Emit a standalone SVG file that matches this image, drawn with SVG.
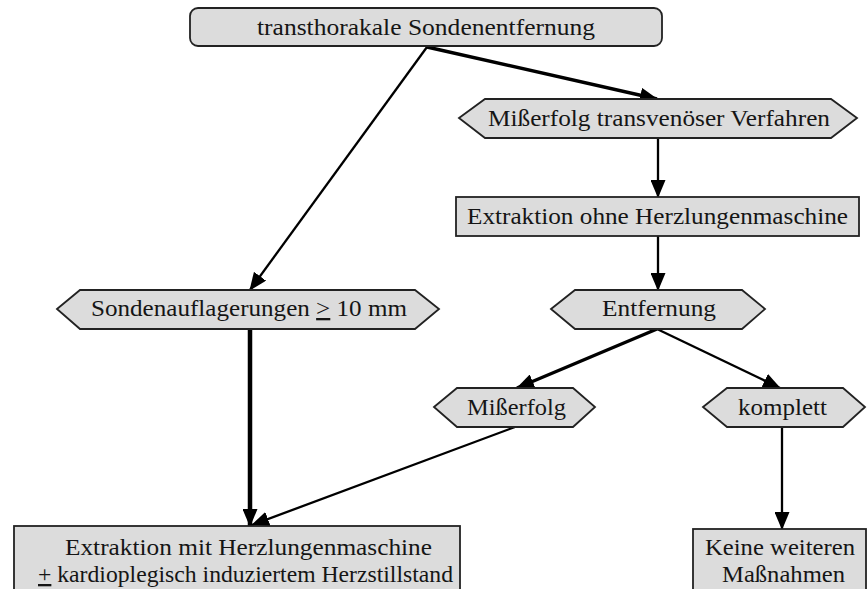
<svg xmlns="http://www.w3.org/2000/svg" width="868" height="589" viewBox="0 0 868 589">
  <style>
    .box { fill: #dcdcdc; stroke: #222; stroke-width: 1.8; }
    .lbl { font-family: "Liberation Serif", "DejaVu Serif", serif; font-size: 23px; fill: #151515; text-anchor: start; }
    .edge { fill: none; stroke: #000; stroke-linecap: butt; }
    .thin { stroke-width: 2.3; }
    .mid { stroke-width: 3.4; }
    .thick { stroke-width: 4.5; }
  </style>
  <defs>
    <marker id="arrow" markerUnits="userSpaceOnUse" markerWidth="18" markerHeight="15" refX="17" refY="7.5" orient="auto">
      <path d="M0,0 L18,7.5 L0,15 Z" fill="#000"/>
    </marker>
  </defs>

  <rect width="868" height="589" fill="#fff"/>

  <!-- connectors -->
  <g id="connectors">
    <line class="edge thin" x1="427" y1="47" x2="250" y2="290" marker-end="url(#arrow)"/>
    <line class="edge mid" x1="427" y1="47" x2="657" y2="99" marker-end="url(#arrow)"/>
    <line class="edge thin" x1="658" y1="138" x2="658" y2="197" marker-end="url(#arrow)"/>
    <line class="edge thin" x1="658" y1="236" x2="658" y2="290" marker-end="url(#arrow)"/>
    <line class="edge thick" x1="250" y1="329" x2="250" y2="526" marker-end="url(#arrow)"/>
    <line class="edge mid" x1="657" y1="329" x2="517" y2="388" marker-end="url(#arrow)"/>
    <line class="edge thin" x1="657" y1="329" x2="780" y2="388" marker-end="url(#arrow)"/>
    <line class="edge thin" x1="515" y1="427" x2="252" y2="525" marker-end="url(#arrow)"/>
    <line class="edge thin" x1="782" y1="427" x2="782" y2="529" marker-end="url(#arrow)"/>
  </g>

  <!-- nodes -->
  <g id="n-start">
    <rect class="box" x="190" y="8" width="472" height="38" rx="8" ry="8"/>
    <text class="lbl" x="257" y="35" textLength="338" lengthAdjust="spacingAndGlyphs">transthorakale Sondenentfernung</text>
  </g>

  <g id="n-misserfolg-transvenoes">
    <polygon class="box" points="459,118 485,99 831,99 857,118 831,138 485,138"/>
    <text class="lbl" x="488" y="126" textLength="342" lengthAdjust="spacingAndGlyphs">Mißerfolg transvenöser Verfahren</text>
  </g>

  <g id="n-extraktion-ohne">
    <rect class="box" x="456" y="197" width="403" height="39"/>
    <text class="lbl" x="467" y="224" textLength="381" lengthAdjust="spacingAndGlyphs">Extraktion ohne Herzlungenmaschine</text>
  </g>

  <g id="n-sondenauflagerungen">
    <polygon class="box" points="57,309 80,290 415,290 439,309 415,329 80,329"/>
    <text class="lbl" x="91" y="316" textLength="316" lengthAdjust="spacingAndGlyphs">Sondenauflagerungen <tspan text-decoration="underline">&gt;</tspan> 10 mm</text>
  </g>

  <g id="n-entfernung">
    <polygon class="box" points="551,309 575,290 742,290 765,309 742,329 575,329"/>
    <text class="lbl" x="602" y="316" textLength="114" lengthAdjust="spacingAndGlyphs">Entfernung</text>
  </g>

  <g id="n-misserfolg">
    <polygon class="box" points="434,407 457,388 573,388 595,407 573,427 457,427"/>
    <text class="lbl" x="467" y="415" textLength="99" lengthAdjust="spacingAndGlyphs">Mißerfolg</text>
  </g>

  <g id="n-komplett">
    <polygon class="box" points="703,407 727,388 843,388 865,407 843,427 727,427"/>
    <text class="lbl" x="738" y="415" textLength="89" lengthAdjust="spacingAndGlyphs">komplett</text>
  </g>

  <g id="n-extraktion-mit">
    <rect class="box" x="14" y="526" width="446" height="80"/>
    <text class="lbl" x="65" y="555" textLength="367" lengthAdjust="spacingAndGlyphs">Extraktion mit Herzlungenmaschine</text>
    <text class="lbl" x="38" y="582" textLength="415" lengthAdjust="spacingAndGlyphs"><tspan text-decoration="underline">+</tspan> kardioplegisch induziertem Herzstillstand</text>
  </g>

  <g id="n-keine">
    <rect class="box" x="693" y="529" width="173" height="80"/>
    <text class="lbl" x="705" y="555" textLength="150" lengthAdjust="spacingAndGlyphs">Keine weiteren</text>
    <text class="lbl" x="722" y="582" textLength="123" lengthAdjust="spacingAndGlyphs">Maßnahmen</text>
  </g>
</svg>
